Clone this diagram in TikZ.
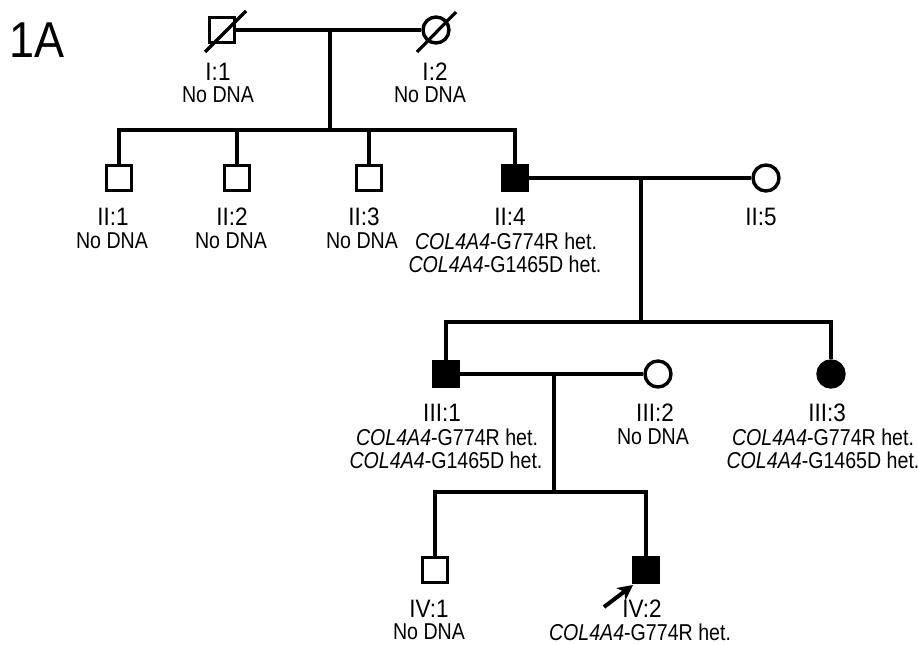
\documentclass[tikz,border=0pt]{standalone}
\usepackage{fontspec}
\usepackage{graphicx}
\setmainfont{Liberation Sans}
\usetikzlibrary{arrows.meta}
\newcommand\tx[1]{\scalebox{1}[1.17]{#1}}
\newcommand\tl[1]{\scalebox{1}[1.12]{#1}}
\begin{document}
\begin{tikzpicture}[x=1pt,y=-1pt,
  male/.style={draw,rectangle,minimum size=25pt,inner sep=0pt,line width=3.4pt,fill=white},
  female/.style={draw,circle,minimum size=26pt,inner sep=0pt,line width=3.4pt,fill=white},
  aff/.style={fill=black},
  idl/.style={inner sep=0pt,font=\fontsize{22.5}{24}\selectfont},
  dat/.style={inner sep=0pt,font=\fontsize{19.6}{22}\selectfont},
  rel/.style={line width=3.2pt}]
\useasboundingbox (0,0) rectangle (918,645);
% title
\node[inner sep=0pt,font=\fontsize{45}{48}\selectfont] (title) at (37,40) {\tl{1A}};
% generation I
\node[male] (I1) at (222,30) {};
\node[female] (I2) at (436,30) {};
\draw[line width=3.2pt] (205,52) -- (246,11);
\draw[line width=3.2pt] (417,52) -- (456,12);
\coordinate (m1) at (330,30);
\coordinate (s1) at (330,130);
\draw[rel] (I1.east) -- (I2.west);
\draw[rel] (m1) -- (s1);
% generation II
\node[male] (II1) at (119,178) {};
\node[male] (II2) at (237,178) {};
\node[male] (II3) at (369,178) {};
\node[male,aff] (II4) at (515,178) {};
\node[female] (II5) at (766,178) {};
\draw[rel] (II1.north) |- (s1) -| (II4.north);
\draw[rel] (II2.north) -- (II2.north |- s1);
\draw[rel] (II3.north) -- (II3.north |- s1);
\coordinate (m2) at (641,178);
\coordinate (s2) at (641,322);
\draw[rel] (II4.east) -- (II5.west);
\draw[rel] (m2) -- (s2);
% generation III
\node[male,aff] (III1) at (446,374) {};
\node[female] (III2) at (658,374) {};
\node[female,aff] (III3) at (831,374) {};
\draw[rel] (III1.north) |- (s2) -| (III3.north);
\coordinate (m3) at (554,374);
\coordinate (s3) at (554,492);
\draw[rel] (III1.east) -- (III2.west);
\draw[rel] (m3) -- (s3);
% generation IV
\node[male] (IV1) at (435,570) {};
\node[male,aff] (IV2) at (646,570) {};
\draw[rel] (IV1.north) |- (s3) -| (IV2.north);
% proband arrow
\coordinate (arT) at (604,607);
\coordinate (arH) at (633,585);
\draw[line width=4pt,-{Stealth[length=15pt,width=15pt,inset=4pt]}] (arT) -- (arH);
% labels
\node[idl] (lI1) at (218,72) {\tl{I:1}};
\node[dat] (dI1) at (218,95) {\tx{No DNA}};
\node[idl] (lI2) at (435,72) {\tl{I:2}};
\node[dat] (dI2) at (430,95) {\tx{No DNA}};
\node[idl] (lII1) at (113,217) {\tl{II:1}};
\node[dat] (dII1) at (112,241) {\tx{No DNA}};
\node[idl] (lII2) at (232,217) {\tl{II:2}};
\node[dat] (dII2) at (231,241) {\tx{No DNA}};
\node[idl] (lII3) at (364,217) {\tl{II:3}};
\node[dat] (dII3) at (362,241) {\tx{No DNA}};
\node[idl] (lII4) at (510,217) {\tl{II:4}};
\node[dat] (dII4a) at (506,241) {\tx{{\itshape COL4A4}-G774R het.}};
\node[dat] (dII4b) at (505,264) {\tx{{\itshape COL4A4}-G1465D het.}};
\node[idl] (lII5) at (761,217) {\tl{II:5}};
\node[idl] (lIII1) at (442,413) {\tl{III:1}};
\node[dat] (dIII1a) at (447,437) {\tx{{\itshape COL4A4}-G774R het.}};
\node[dat] (dIII1b) at (446,460) {\tx{{\itshape COL4A4}-G1465D het.}};
\node[idl] (lIII2) at (655,413) {\tl{III:2}};
\node[dat] (dIII2) at (653,437) {\tx{No DNA}};
\node[idl] (lIII3) at (827,413) {\tl{III:3}};
\node[dat] (dIII3a) at (823,437) {\tx{{\itshape COL4A4}-G774R het.}};
\node[dat] (dIII3b) at (823,460) {\tx{{\itshape COL4A4}-G1465D het.}};
\node[idl] (lIV1) at (429,609) {\tl{IV:1}};
\node[dat] (dIV1) at (429,632) {\tx{No DNA}};
\node[idl] (lIV2) at (642,609) {\tl{IV:2}};
\node[dat] (dIV2) at (640,632) {\tx{{\itshape COL4A4}-G774R het.}};
\end{tikzpicture}
\end{document}
